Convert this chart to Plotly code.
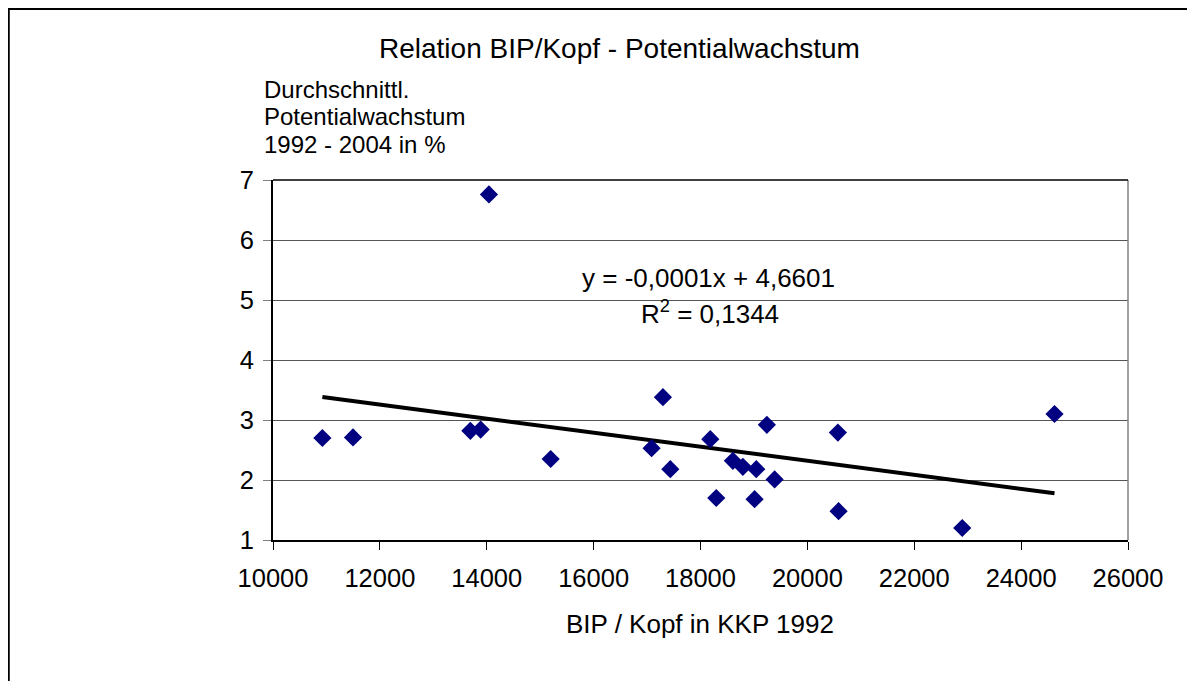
import numpy as np
import plotly.graph_objects as go

# Data
bip_kopf = [10924, 11497, 13693, 13886, 14041, 15196, 17085, 17297, 17435,
            18183, 18295, 18606, 18793, 19044, 19012, 19242, 19387, 20571,
            20584, 22898, 24625]
wachstum = [2.70, 2.71, 2.82, 2.84, 6.76, 2.35, 2.53, 3.38, 2.18,
            2.68, 1.70, 2.32, 2.22, 2.18, 1.68, 2.92, 2.01, 2.79,
            1.48, 1.20, 3.10]
x_ticks = [10000, 12000, 14000, 16000, 18000, 20000, 22000, 24000, 26000]
y_ticks = [1, 2, 3, 4, 5, 6, 7]

title_text = "Relation BIP/Kopf - Potentialwachstum"
y_title_lines = ["Durchschnittl.", "Potentialwachstum", "1992 - 2004 in %"]
x_title_text = "BIP / Kopf in KKP 1992"
eq_text = "y = -0,0001x + 4,6601"
r2_text = "R<sup>2</sup> = 0,1344"

# page body has an 8px margin; work in screen coordinates and shift
OFF = 8
W, H = 1187, 673
L, R, T, B = 273.3 - OFF, 1128.5 - OFF, 180.0 - OFF, 540.0 - OFF

def px(p):  # screen x -> paper
    return (p - OFF - L) / (R - L)

def py(p):  # screen y -> paper
    return (B - (p - OFF)) / (B - T)

# linear trendline from data
xs = np.array(bip_kopf, dtype=float)
ys = np.array(wachstum, dtype=float)
slope, intercept = np.polyfit(xs, ys, 1)
tx = np.array([xs.min(), xs.max()])
ty = slope * tx + intercept

FONT = "Liberation Sans, Arial, sans-serif"

fig = go.Figure()
fig.add_trace(go.Scatter(
    x=tx, y=ty, mode="lines",
    line=dict(color="black", width=4),
    hoverinfo="skip", showlegend=False))
fig.add_trace(go.Scatter(
    x=bip_kopf, y=wachstum, mode="markers",
    marker=dict(symbol="diamond", size=14, color="#000080",
                line=dict(width=0)),
    showlegend=False))

fig.update_layout(
    width=W, height=H,
    margin=dict(l=L, r=W - R, t=T, b=H - B, pad=0),
    paper_bgcolor="white", plot_bgcolor="white",
    font=dict(family=FONT, color="black"),
    showlegend=False,
)
fig.update_xaxes(
    range=[10000, 26000], tickvals=x_ticks, tickformat="d",
    showgrid=False, zeroline=False,
    showline=True, linecolor="black", linewidth=2,
    ticks="outside", ticklen=8, tickcolor="black", tickwidth=1,
    tickfont=dict(size=25.5, family=FONT, color="black"),
    ticklabelstandoff=6,
)
fig.update_yaxes(
    range=[1, 7], tickvals=y_ticks,
    showgrid=True, gridcolor="#555555", gridwidth=1,
    zeroline=False,
    showline=True, linecolor="black", linewidth=2,
    ticks="outside", ticklen=8, tickcolor="#808080", tickwidth=1,
    tickfont=dict(size=25.5, family=FONT, color="black"),
    ticklabelstandoff=4,
)

shapes = [
    # right border of plot area
    dict(type="line", xref="paper", yref="paper", x0=1, x1=1, y0=0, y1=1,
         line=dict(color="#808080", width=1.5)),
    # top border of plot area
    dict(type="line", xref="paper", yref="paper", x0=0, x1=1, y0=1, y1=1,
         line=dict(color="black", width=1.5)),
    # outer chart border (top and left)
    dict(type="line", xref="paper", yref="paper",
         x0=px(OFF), x1=px(OFF + W), y0=py(OFF + 1), y1=py(OFF + 1),
         line=dict(color="black", width=2)),
    dict(type="line", xref="paper", yref="paper",
         x0=px(OFF + 1), x1=px(OFF + 1), y0=py(OFF), y1=py(OFF + H),
         line=dict(color="black", width=2)),
]
fig.update_layout(shapes=shapes)

ann = []
ann.append(dict(text=title_text, xref="paper", yref="paper",
                x=px(620), y=py(48), xanchor="center", yanchor="middle",
                showarrow=False, font=dict(size=28, family=FONT)))
for i, line in enumerate(y_title_lines):
    ann.append(dict(text=line, xref="paper", yref="paper",
                    x=px(262), y=py(89 + 28 * i), xanchor="left",
                    yanchor="middle", showarrow=False,
                    font=dict(size=24, family=FONT)))
ann.append(dict(text=x_title_text, xref="paper", yref="paper",
                x=px(700), y=py(624), xanchor="center", yanchor="middle",
                showarrow=False, font=dict(size=26, family=FONT)))
ann.append(dict(text=eq_text, xref="paper", yref="paper",
                x=px(709), y=py(278), xanchor="center", yanchor="middle",
                showarrow=False, font=dict(size=26, family=FONT)))
ann.append(dict(text=r2_text, xref="paper", yref="paper",
                x=px(710), y=py(312), xanchor="center", yanchor="middle",
                showarrow=False, font=dict(size=26, family=FONT)))
fig.update_layout(annotations=ann)

fig.write_html("out.html")
